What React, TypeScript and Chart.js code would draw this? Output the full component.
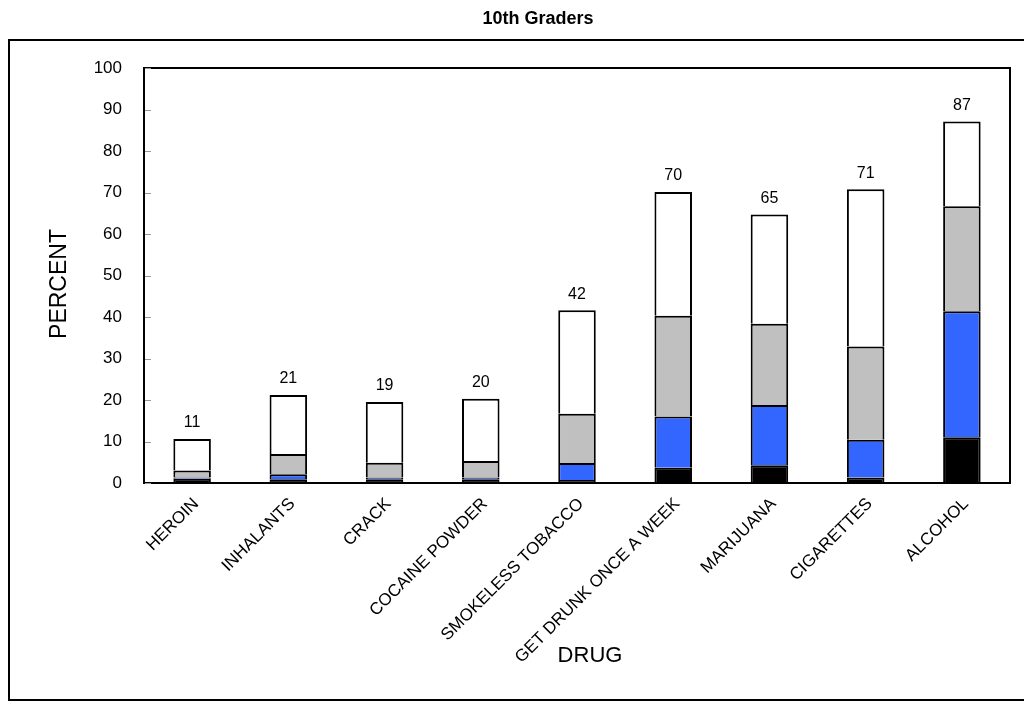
import React, { useEffect, useRef } from "react";
import { Chart, registerables } from "chart.js";

Chart.register(...registerables);

const categories = [
  "HEROIN",
  "INHALANTS",
  "CRACK",
  "COCAINE POWDER",
  "SMOKELESS TOBACCO",
  "GET DRUNK ONCE A WEEK",
  "MARIJUANA",
  "CIGARETTES",
  "ALCOHOL",
];
const blackSeg = [1.0, 0.9, 0.9, 0.9, 0.7, 3.7, 4.3, 1.3, 11.0];
const blueSeg = [0.3, 1.2, 0.4, 0.4, 4.1, 12.3, 14.5, 9.1, 30.4];
const graySeg = [1.7, 4.9, 3.6, 4.0, 11.9, 24.3, 19.6, 22.5, 25.3];
const whiteSeg = [7.6, 14.2, 14.6, 15.0, 24.9, 29.8, 26.3, 37.9, 20.4];
const totalLabels = ["11", "21", "19", "20", "42", "70", "65", "71", "87"];
const yTicks = [0, 10, 20, 30, 40, 50, 60, 70, 80, 90, 100];

const FONT = "Arial, 'Liberation Sans', sans-serif";

const decorPlugin = {
  id: "decor",
  afterDraw(chart: any) {
    const ctx = chart.ctx;
    const a = chart.chartArea;
    const yScale = chart.scales.y;
    ctx.save();
    // outer frame
    ctx.strokeStyle = "#000";
    ctx.lineWidth = 2;
    ctx.strokeRect(9, 40, 1030, 660);
    // plot frame
    ctx.lineWidth = 2;
    ctx.strokeRect(a.left, a.top, a.right - a.left, a.bottom - a.top);
    // inward ticks
    ctx.strokeStyle = "#999";
    ctx.lineWidth = 1;
    yTicks.forEach((t) => {
      const y = Math.round(yScale.getPixelForValue(t)) + 0.5;
      ctx.beginPath();
      ctx.moveTo(a.left + 1, y);
      ctx.lineTo(a.left + 7, y);
      ctx.stroke();
    });
    // title
    ctx.fillStyle = "#000";
    ctx.font = `bold 18px ${FONT}`;
    ctx.textAlign = "center";
    ctx.textBaseline = "middle";
    ctx.fillText("10th Graders", 538, 19);
    // axis titles
    ctx.font = `22px ${FONT}`;
    ctx.fillText("DRUG", 590, 656);
    ctx.save();
    ctx.translate(60, 284);
    ctx.rotate(-Math.PI / 2);
    ctx.font = `23px ${FONT}`;
    ctx.fillText("PERCENT", 0, 0);
    ctx.restore();
    // totals
    const meta = chart.getDatasetMeta(3);
    ctx.font = `16px ${FONT}`;
    meta.data.forEach((bar: any, i: number) => {
      ctx.fillText(totalLabels[i], bar.x, bar.y - 16);
    });
    ctx.restore();
  },
};

export default function App() {
  const ref = useRef<HTMLCanvasElement>(null);
  useEffect(() => {
    if (!ref.current) return;
    const common = {
      borderColor: "#000",
      borderWidth: 2,
      borderSkipped: "start" as const,
      barPercentage: 0.39,
      categoryPercentage: 1,
    };
    const chart = new Chart(ref.current, {
      type: "bar",
      data: {
        labels: categories,
        datasets: [
          { label: "black", data: blackSeg, backgroundColor: "#000000", ...common },
          { label: "blue", data: blueSeg, backgroundColor: "#3366FF", ...common },
          { label: "gray", data: graySeg, backgroundColor: "#C0C0C0", ...common },
          { label: "white", data: whiteSeg, backgroundColor: "#FFFFFF", ...common },
        ],
      },
      options: {
        animation: false,
        responsive: false,
        maintainAspectRatio: false,
        layout: { padding: { left: 44, right: 14, top: 68, bottom: 19 } },
        plugins: {
          legend: { display: false },
          tooltip: { enabled: false },
          title: { display: false },
        },
        scales: {
          x: {
            stacked: true,
            grid: { display: false, drawTicks: false },
            border: { display: true, color: "#000", width: 2 },
            ticks: {
              color: "#000",
              font: { family: FONT, size: 17 },
              maxRotation: 45,
              minRotation: 45,
              padding: 11,
              labelOffset: 4,
              autoSkip: false,
            },
            afterFit: (s: any) => {
              s.height = 200;
            },
          },
          y: {
            stacked: true,
            min: 0,
            max: 100,
            grid: { display: false, drawTicks: false },
            border: { display: true, color: "#000", width: 2 },
            ticks: {
              stepSize: 10,
              color: "#000",
              font: { family: FONT, size: 17 },
              padding: 22,
            },
            afterFit: (s: any) => {
              s.width = 100;
            },
          },
        },
      },
      plugins: [decorPlugin],
    });
    return () => chart.destroy();
  }, []);
  return (
    <div style={{ position: "fixed", left: 0, top: 0, width: 1024, height: 702, background: "#fff" }}>
      <canvas ref={ref} width={1024} height={702} style={{ width: 1024, height: 702 }} />
    </div>
  );
}
